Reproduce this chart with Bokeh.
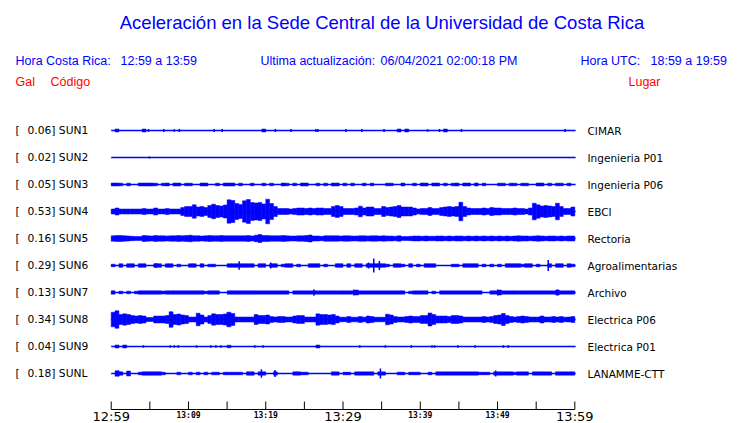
import numpy as np
from bokeh.plotting import figure
from bokeh.models import Range1d
from bokeh.core.properties import value
from bokeh.embed import file_html
from bokeh.resources import INLINE

# ---------------- data ----------------
TITLE = "Aceleración en la Sede Central de la Universidad de Costa Rica"
HORA_CR = "12:59 a 13:59"
ULTIMA = "06/04/2021 02:00:18 PM"
HORA_UTC = "18:59 a 19:59"

CODES = ["SUN1", "SUN2", "SUN3", "SUN4", "SUN5", "SUN6", "SUN7", "SUN8", "SUN9", "SUNL"]
GAL = [0.06, 0.02, 0.05, 0.53, 0.16, 0.29, 0.13, 0.34, 0.04, 0.18]
PLACES = ["CIMAR", "Ingenieria P01", "Ingenieria P06", "EBCI", "Rectoria",
          "Agroalimentarias", "Archivo", "Electrica P06", "Electrica P01", "LANAMME-CTT"]

TICK_MIN = [0, 5, 10, 15, 20, 25, 30, 35, 40, 45, 50, 55, 60]
BIG_TICK_MIN = [0, 30, 60]
BIG_TICK_LABELS = ["12:59", "13:29", "13:59"]
SMALL_TICK_MIN = [10, 20, 40, 50]
SMALL_TICK_LABELS = ["13:09", "13:19", "13:39", "13:49"]

# envelope: half-amplitude per 30-s bin (120 bins over 60 min), relative units
ENV_SUN1 = [0, 1.5, 0, 0, 0, 0, 0, 0, 1.5, 0, 0, 0, 0, 0, 0, 0, 0, 0, 0, 0,
            0, 0, 0, 0, 0, 0, 0, 0, 0, 0, 0, 0, 0, 0, 0, 0, 0, 0, 0, 1.5,
            0, 0, 0, 0, 0, 0, 0, 0, 0, 0, 0, 0, 0, 0, 0, 0, 0, 0, 0, 0,
            0, 0, 0, 0, 0, 0, 0, 0, 0, 0, 0, 0, 0, 0, 1.5, 0, 1.5, 0, 0, 0,
            0, 0, 0, 0, 0, 0, 1.5, 0, 0, 0, 0, 0, 0, 0, 0, 0, 0, 0, 0, 0,
            0, 0, 0, 0, 0, 0, 0, 0, 0, 0, 0, 0, 0, 0, 0, 0, 0, 0, 0, 0]
ENV_SUN2 = [0] * 120
ENV_SUN3 = [1.5, 1.5, 1.3, 0, 1.3, 0, 0, 1.5, 1.5, 1.5, 1.5, 1.3, 0, 1.3, 1.5, 0, 1.5, 1.5, 0, 1.3,
            1.3, 0, 0, 1.5, 1.5, 0, 0, 1.3, 0, 1.5, 1.5, 1.5, 0, 1.3, 0, 0, 1.3, 0, 0, 1.3,
            0, 1.3, 0, 0, 1.5, 1.3, 0, 1.3, 0, 1.5, 1.5, 0, 0, 1.3, 0, 1.3, 0, 1.5, 1.5, 0,
            1.3, 0, 1.3, 0, 0, 1.3, 0, 1.3, 0, 0, 0, 1.3, 1.3, 0, 0, 1.5, 0, 0, 1.3, 0,
            1.5, 1.5, 0, 1.5, 1.5, 0, 1.3, 0, 1.3, 1.5, 0, 1.5, 1.5, 0, 1.5, 0, 1.3, 0, 0, 0,
            1.3, 1.3, 0, 1.3, 1.3, 0, 1.3, 1.3, 0, 0, 1.5, 1.5, 0, 1.3, 0, 1.3, 1.3, 0, 1.3, 0]
ENV_SUN4 = [2.5, 3.5, 2.5, 2.5, 2.5, 2.5, 2.5, 2.5, 3, 2.5, 2.5, 3.5, 2.5, 2.5, 3, 2.5, 2.5, 2.5, 4, 5,
            5, 6.7, 4.5, 5, 4, 6, 7.3, 6, 5.5, 6.5, 11.7, 11, 8, 7, 10.7, 12, 9, 8.5, 9, 7.5,
            12.3, 8, 5, 3, 3, 3, 2.5, 3, 3.5, 3.5, 3, 3.5, 3, 3.5, 3.5, 3, 3, 5, 6, 5,
            3, 3, 3, 3.5, 5.3, 3.5, 4.5, 4.5, 3, 3, 5, 4, 4.5, 5, 6, 4.5, 4.5, 4.5, 3.5, 2.5,
            3, 3, 4, 3, 3, 4, 4.5, 5, 4.5, 5, 9.3, 5, 3.5, 3, 3, 3, 3.5, 3, 4, 3.5,
            3.5, 3, 3, 3, 3.5, 3, 3, 2.5, 3.5, 8.3, 6.7, 5.5, 6, 5.5, 5, 8.3, 5, 3, 3, 4.5]
ENV_SUN5 = [2.7, 3, 3, 2.7, 2.5, 2.2, 2, 2, 3, 2.7, 2.5, 3, 2.7, 2.7, 2.5, 2.7, 2.7, 3, 2.7, 3,
            3.3, 2.7, 2.7, 2.5, 2.7, 3, 2.7, 2.7, 3, 2.7, 2.7, 2.7, 2.7, 2.7, 2.7, 3, 2.5, 3.3, 4, 3,
            3, 2.7, 2.7, 2.7, 3, 2.7, 2.5, 2.5, 2.7, 2.7, 3, 3.5, 2.5, 2.5, 2.2, 2.7, 2.7, 2.7, 2.7, 2.5,
            2.7, 2.7, 2.5, 2.5, 2.7, 2.7, 2.5, 2.7, 2.7, 2.5, 2.7, 2.5, 2.5, 2.2, 2.7, 2, 2, 2.2, 2.5, 2.5,
            2.2, 2.5, 2.2, 2.2, 2.5, 2.5, 2.2, 2.5, 2.2, 2.5, 2.5, 2.2, 2.5, 2.2, 2.5, 2.2, 2.5, 2.2, 2.5, 2.2,
            2.5, 2.2, 2.5, 2.2, 2.5, 2.7, 2.5, 2.5, 2.2, 2.5, 2.7, 2.5, 2.2, 2.5, 2.5, 2.2, 2.5, 2.2, 2.5, 2.5]
ENV_SUN6 = [1.3, 0, 1.8, 0, 1.8, 1.8, 0, 1.8, 1.8, 0, 0, 1.8, 1.8, 0, 1.8, 1.8, 0, 1.3, 0, 0,
            1.8, 1.8, 0, 1.8, 0, 1.3, 1.3, 0, 0, 0, 1.8, 1.8, 1.8, 1.8, 1.8, 1.8, 1.8, 0, 1.8, 1.8,
            0, 1.8, 1.8, 0, 1.3, 1.8, 1.8, 0, 1.3, 0, 0, 1.8, 1.8, 1.8, 0, 1.3, 0, 0, 1.8, 1.8,
            0, 1.8, 0, 1.8, 1.8, 0, 1.8, 1.8, 1.8, 1.8, 1.8, 1.3, 0, 1.8, 1.8, 1.3, 0, 1.8, 0, 1.3,
            0, 1.8, 1.8, 1.8, 0, 0, 0, 0, 1.3, 1.3, 0, 1.8, 1.8, 1.8, 1.8, 0, 1.3, 0, 1.3, 0,
            1.3, 0, 1.8, 1.8, 1.8, 1.8, 1.3, 1.8, 1.8, 0, 1.3, 0, 0, 1.8, 0, 1.8, 1.8, 0, 1.8, 1.3]
ENV_SUN7 = [1.7, 0, 1.3, 0, 1.3, 0, 1.3, 1.7, 1.7, 1.7, 1.7, 1.7, 1.7, 1.5, 1.7, 1.7, 1.7, 1.7, 1.7, 1.7,
            1.7, 1.7, 1.7, 1.7, 1.3, 1.7, 1.7, 1.7, 0, 0, 1.7, 1.7, 1.7, 1.7, 1.7, 1.7, 1.7, 1.7, 1.7, 1.7,
            1.7, 1.7, 1.7, 1.7, 1.7, 1.7, 0, 1.7, 1.7, 1.7, 1.7, 1.7, 1.7, 1.7, 1.7, 1.7, 1.7, 1.7, 1.7, 1.7,
            1.7, 1.7, 1.7, 2.5, 1.7, 1.7, 1.7, 1.7, 1.7, 1.7, 1.7, 1.7, 1.7, 1.7, 1.7, 1.7, 0, 1.3, 1.7, 1.7,
            1.7, 1.7, 0, 1.3, 0, 1.7, 1.7, 1.7, 1.7, 1.7, 1.7, 1.7, 1.7, 1.7, 1.7, 1.7, 0, 0, 1.7, 1.7,
            2.5, 1.7, 1.7, 1.7, 1.7, 1.7, 1.7, 1.7, 1.7, 1.7, 1.7, 1.7, 1.7, 1.7, 1.7, 2.5, 1.7, 1.7, 1.7, 1.7]
ENV_SUN8 = [7.3, 8.7, 5, 5.7, 5, 4, 3.5, 4, 3.5, 2, 2, 3.5, 3.5, 3.5, 4, 7.7, 5, 5.5, 4.5, 4,
            2.5, 2.5, 6.3, 4.5, 2.5, 4, 5.7, 5, 5, 5.5, 7.3, 6, 2.5, 2.5, 2.5, 2.5, 2.5, 5, 4, 4,
            4.5, 3, 2.5, 3, 3, 2.5, 2.5, 3.5, 4, 4, 2.5, 2.5, 2.5, 5.7, 5, 5, 4.5, 5, 3.5, 2.3,
            2.3, 3, 2.3, 2.3, 3, 2.3, 3.5, 3, 2.3, 2.3, 2.3, 5.3, 4.5, 3, 2.5, 2.5, 3, 3.5, 3, 3,
            4, 4, 6.5, 5, 3.5, 3.5, 3.5, 3, 4, 4, 3.5, 2.5, 2.5, 2.5, 2.5, 2.5, 3, 2.5, 3, 4,
            4.5, 6, 4, 3, 2.5, 3, 3.5, 3, 2.5, 2.5, 2.5, 3.5, 2.5, 2.5, 3, 2.5, 3, 2.3, 2.5, 3]
ENV_SUN9 = [0, 1.5, 0, 1.5, 0, 0, 0, 0, 0, 0, 0, 0, 0, 0, 0, 0, 0, 0, 0, 0,
            0, 0, 0, 0, 0, 0, 0, 0, 0, 0, 1.3, 0, 0, 0, 0, 0, 0, 0, 0, 0,
            0, 0, 0, 0, 0, 0, 0, 0, 0, 0, 0, 0, 0, 1.5, 0, 0, 0, 0, 0, 0,
            0, 0, 0, 0, 0, 0, 0, 0, 0, 0, 0, 0, 0, 0, 0, 0, 0, 0, 0, 0,
            0, 0, 0, 0, 0, 0, 0, 0, 0, 0, 0, 0, 0, 0, 0, 0, 0, 0, 0, 0,
            0, 0, 0, 0, 0, 0, 0, 0, 0, 0, 0, 0, 0, 0, 0, 0, 0, 0, 0, 0]
ENV_SUNL = [0, 2.7, 1.7, 0, 2.5, 0, 0, 1.3, 1.7, 1.7, 1.7, 1.7, 1.7, 1.3, 0, 0, 0, 1.3, 0, 0,
            1.3, 0, 1.3, 0, 1.3, 0, 1.3, 1.3, 0, 1.3, 1.3, 1.3, 1.3, 1.3, 0, 1.7, 1.7, 0, 1.7, 1.7,
            0, 0, 1.7, 0, 0, 0, 0, 1.7, 1.7, 1.3, 1.3, 0, 0, 0, 0, 0, 0, 1.7, 1.7, 0,
            1.3, 1.3, 0, 1.7, 1.7, 1.7, 1.7, 1.7, 0, 1.7, 1.7, 0, 0, 0, 1.3, 1.3, 0, 1.3, 1.3, 1.3,
            0, 0, 1.3, 0, 1.7, 1.7, 1.7, 1.7, 1.7, 1.7, 1.7, 1.7, 1.7, 1.7, 1.7, 1.3, 1.3, 1.3, 0, 1.7,
            1.7, 1.7, 1.7, 1.7, 1.3, 1.7, 1.7, 1.7, 0, 1.7, 1.7, 1.7, 1.7, 1.7, 0, 1.7, 1.7, 1.7, 1.7, 1.7]

# isolated spikes: time (min after 12:59) and half-amplitude
SPK_T_SUN1 = [4.82, 6.80, 8.17, 8.82, 13.33, 14.37, 21.25, 23.27, 26.49, 26.75, 30.37, 32.43,
              35.31, 40.95, 42.49, 45.33, 58.75]
SPK_A_SUN1 = [1.5, 1.5, 1.2, 1.5, 1.5, 1.5, 1.5, 1.5, 1.5, 1.5, 1.5, 1.5, 1.5, 1.2, 1.5, 1.5, 1.5]
SPK_T_SUN2 = [4.95]
SPK_A_SUN2 = [1.0]
SPK_T_SUN3 = []
SPK_A_SUN3 = []
SPK_T_SUN4 = []
SPK_A_SUN4 = []
SPK_T_SUN5 = []
SPK_A_SUN5 = []
SPK_T_SUN6 = [5.81, 16.56, 20.65, 33.30, 33.98, 34.71, 56.56]
SPK_A_SUN6 = [2.5, 4.3, 3.0, 3.0, 7.0, 4.5, 5.5]
SPK_T_SUN7 = [26.24, 31.40, 50.02, 57.76]
SPK_A_SUN7 = [3.3, 3.0, 3.0, 3.0]
SPK_T_SUN8 = [0.65, 7.66, 15.05]
SPK_A_SUN8 = [8.7, 7.7, 7.3]
SPK_T_SUN9 = [4.17, 7.66, 8.17, 8.69, 11.05, 12.9, 13.55, 14.19, 18.58, 19.66, 32.17, 35.48,
              38.84, 41.51, 41.85, 44.86, 47.1, 50.75, 51.4]
SPK_A_SUN9 = [1.3] * 19
SPK_T_SUNL = [0.95, 19.44, 21.2, 34.84, 49.76]
SPK_A_SUNL = [2.7, 4.2, 3.5, 5.0, 3.0]

ENVS = [ENV_SUN1, ENV_SUN2, ENV_SUN3, ENV_SUN4, ENV_SUN5, ENV_SUN6, ENV_SUN7, ENV_SUN8, ENV_SUN9, ENV_SUNL]
SPK_T = [SPK_T_SUN1, SPK_T_SUN2, SPK_T_SUN3, SPK_T_SUN4, SPK_T_SUN5, SPK_T_SUN6, SPK_T_SUN7,
         SPK_T_SUN8, SPK_T_SUN9, SPK_T_SUNL]
SPK_A = [SPK_A_SUN1, SPK_A_SUN2, SPK_A_SUN3, SPK_A_SUN4, SPK_A_SUN5, SPK_A_SUN6, SPK_A_SUN7,
         SPK_A_SUN8, SPK_A_SUN9, SPK_A_SUNL]

# ---------------- layout ----------------
W, H = 740, 423
X0, PX_PER_MIN = 110.7, 7.727     # screen x of 12:59 and px per minute
Y0, SLOT_PX = 130.0, 27.0         # screen y of first trace, spacing
BIN_MIN = 0.5
BLUE = "#0000ff"
RED = "#ff0000"


def tx(X):
    return (X - X0) / PX_PER_MIN


def ty(Y):
    return (Y - Y0) / SLOT_PX


p = figure(width=W, height=H, output_backend="svg", toolbar_location=None,
           x_axis_type=None, y_axis_type=None, min_border=0,
           x_range=Range1d(tx(0), tx(W)),
           y_range=Range1d(ty(H), ty(0)))
p.outline_line_color = None
p.background_fill_color = "white"
p.border_fill_color = "white"

HF = value("Liberation Sans")
LF = value("DejaVu Sans")


def htext(X, Y, s, color=BLUE, size="12.5px", align="left", font=HF):
    p.text(x=[tx(X)], y=[ty(Y)], text=[s], text_color=color, text_font=font,
           text_font_size=size, text_align=align, text_baseline="middle")


htext(381.5, 22, TITLE, size="18.5px", align="center")
htext(15, 60, "Hora Costa Rica:")
htext(120, 60, HORA_CR)
htext(260, 60, "Ultima actualización:")
htext(380, 60, ULTIMA)
htext(580, 60, "Hora UTC:")
htext(650, 60, HORA_UTC)
htext(15, 81, "Gal", color=RED)
htext(50, 81, "Código", color=RED)
htext(628, 81, "Lugar", color=RED)

# traces
t_bins = (np.arange(120) + 0.5) * BIN_MIN
g = 1.0 / SLOT_PX
for i in range(len(CODES)):
    base = float(i)
    p.segment(x0=[0], y0=[base], x1=[60.1], y1=[base], line_color=BLUE, line_width=1.4)
    env = np.array(ENVS[i], dtype=float)
    m = env > 0
    if m.any():
        p.vbar(x=t_bins[m], width=BIN_MIN, bottom=base - env[m] * g, top=base + env[m] * g,
               fill_color=BLUE, line_color=BLUE, line_width=0.5)
    if SPK_T[i]:
        st = np.array(SPK_T[i])
        sa = np.array(SPK_A[i])
        p.segment(x0=st, y0=base - sa * g, x1=st, y1=base + sa * g, line_color=BLUE, line_width=1.5)

# labels left / right
ys = [float(i) for i in range(len(CODES))]
p.text(x=[tx(15)] * len(CODES), y=ys, text=["["] * len(CODES), text_color="black",
       text_font=LF, text_font_size="10.7px", text_baseline="middle")
p.text(x=[tx(27)] * len(CODES), y=ys, text=[f"{gv:.2f}] {c}" for gv, c in zip(GAL, CODES)],
       text_color="black", text_font=LF, text_font_size="10.7px", text_baseline="middle")
p.text(x=[tx(587)] * len(CODES), y=ys, text=PLACES, text_color="black",
       text_font=LF, text_font_size="10.5px", text_baseline="middle")

# time axis
ya = ty(409)
p.segment(x0=[0], y0=[ya], x1=[60], y1=[ya], line_color="black", line_width=1)
p.segment(x0=TICK_MIN, y0=[ya] * len(TICK_MIN), x1=TICK_MIN, y1=[ty(401)] * len(TICK_MIN),
          line_color="black", line_width=1)
p.text(x=BIG_TICK_MIN, y=[ty(408)] * 3, text=BIG_TICK_LABELS, text_color="black",
       text_font=LF, text_font_size="13px", text_align="center", text_baseline="top")
p.text(x=SMALL_TICK_MIN, y=[ty(410)] * 4, text=SMALL_TICK_LABELS, text_color="black",
       text_font=value("DejaVu Sans Mono"), text_font_size="8px", text_font_style="bold",
       text_align="center", text_baseline="top")

open("out.html", "w").write(file_html(p, INLINE))
